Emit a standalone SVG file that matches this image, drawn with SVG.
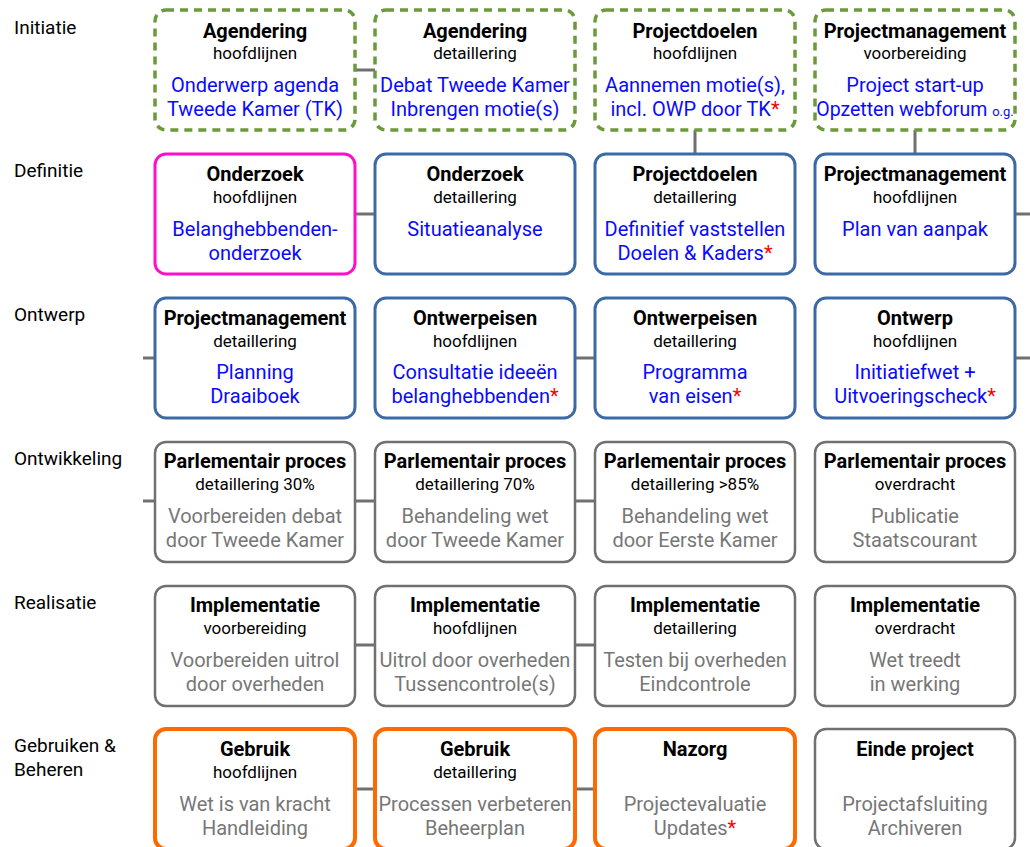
<svg xmlns="http://www.w3.org/2000/svg" width="1030" height="847" viewBox="0 0 1030 847">
<style>
text{font-family:Roboto,"Liberation Sans",sans-serif;text-anchor:middle}
.lbl{font-size:19px;fill:#000;text-anchor:start}
.t{font-size:20px;font-weight:bold;fill:#000}
.s{font-size:17px;fill:#000}
.b{font-size:20px;fill:#0a0aff}
.g{font-size:20px;fill:#777}
.r{fill:#ff0000}
.sm{font-size:13px}
.box{fill:#fff;stroke-width:3}
.green{stroke:#6b9a3a;stroke-width:3.5;stroke-dasharray:8 6}
.pink{stroke:#ff10c8}
.blue{stroke:#3c6aa6}
.gray{stroke:#707070;stroke-width:2.5}
.orange{stroke:#ff6a00;stroke-width:4}
.con line{stroke:#707070;stroke-width:3}
</style>
<g id="labels">
<text class="lbl" x="14" y="34">Initiatie</text>
<text class="lbl" x="14" y="177">Definitie</text>
<text class="lbl" x="14" y="321">Ontwerp</text>
<text class="lbl" x="14" y="465">Ontwikkeling</text>
<text class="lbl" x="14" y="609">Realisatie</text>
<text class="lbl" x="14" y="752">Gebruiken &amp;</text>
<text class="lbl" x="14" y="776">Beheren</text>
</g>
<g class="con" id="connectors">
<line x1="355" y1="70" x2="375" y2="70"/>
<line x1="695" y1="130" x2="695" y2="154"/>
<line x1="915" y1="130" x2="915" y2="154"/>
<line x1="355" y1="214" x2="375" y2="214"/>
<line x1="1015" y1="214" x2="1030" y2="214"/>
<line x1="143" y1="358" x2="155" y2="358"/>
<line x1="575" y1="358" x2="595" y2="358"/>
<line x1="1015" y1="358" x2="1030" y2="358"/>
<line x1="143" y1="501" x2="155" y2="501"/>
<line x1="355" y1="501" x2="375" y2="501"/>
<line x1="575" y1="501" x2="595" y2="501"/>
<line x1="355" y1="645" x2="375" y2="645"/>
<line x1="575" y1="645" x2="595" y2="645"/>
<line x1="355" y1="789" x2="375" y2="789"/>
<line x1="575" y1="789" x2="595" y2="789"/>
</g>
<!-- Row 1 -->
<g id="n11"><rect class="box green" x="155" y="10" width="200" height="120" rx="11"/>
<text class="t" x="255" y="38">Agendering</text><text class="s" x="255" y="59">hoofdlijnen</text>
<text class="b" x="255" y="92">Onderwerp agenda</text><text class="b" x="255" y="116">Tweede Kamer (TK)</text></g>
<g id="n12"><rect class="box green" x="375" y="10" width="200" height="120" rx="11"/>
<text class="t" x="475" y="38">Agendering</text><text class="s" x="475" y="59">detaillering</text>
<text class="b" x="475" y="92">Debat Tweede Kamer</text><text class="b" x="475" y="116">Inbrengen motie(s)</text></g>
<g id="n13"><rect class="box green" x="595" y="10" width="200" height="120" rx="11"/>
<text class="t" x="695" y="38">Projectdoelen</text><text class="s" x="695" y="59">hoofdlijnen</text>
<text class="b" x="695" y="92">Aannemen motie(s),</text><text class="b" x="695" y="116">incl. OWP door TK<tspan class="r">*</tspan></text></g>
<g id="n14"><rect class="box green" x="815" y="10" width="200" height="120" rx="11"/>
<text class="t" x="915" y="38">Projectmanagement</text><text class="s" x="915" y="59">voorbereiding</text>
<text class="b" x="915" y="92">Project start-up</text><text class="b" x="915" y="116" style="font-size:19.5px">Opzetten webforum <tspan class="sm">o.g.</tspan></text></g>
<!-- Row 2 -->
<g id="n21"><rect class="box pink" x="155" y="154" width="200" height="120" rx="11"/>
<text class="t" x="255" y="181">Onderzoek</text><text class="s" x="255" y="203">hoofdlijnen</text>
<text class="b" x="255" y="236">Belanghebbenden-</text><text class="b" x="255" y="260">onderzoek</text></g>
<g id="n22"><rect class="box blue" x="375" y="154" width="200" height="120" rx="11"/>
<text class="t" x="475" y="181">Onderzoek</text><text class="s" x="475" y="203">detaillering</text>
<text class="b" x="475" y="236">Situatieanalyse</text></g>
<g id="n23"><rect class="box blue" x="595" y="154" width="200" height="120" rx="11"/>
<text class="t" x="695" y="181">Projectdoelen</text><text class="s" x="695" y="203">detaillering</text>
<text class="b" x="695" y="236">Definitief vaststellen</text><text class="b" x="695" y="260">Doelen &amp; Kaders<tspan class="r">*</tspan></text></g>
<g id="n24"><rect class="box blue" x="815" y="154" width="200" height="120" rx="11"/>
<text class="t" x="915" y="181">Projectmanagement</text><text class="s" x="915" y="203">hoofdlijnen</text>
<text class="b" x="915" y="236">Plan van aanpak</text></g>
<!-- Row 3 -->
<g id="n31"><rect class="box blue" x="155" y="298" width="200" height="120" rx="11"/>
<text class="t" x="255" y="325">Projectmanagement</text><text class="s" x="255" y="347">detaillering</text>
<text class="b" x="255" y="379">Planning</text><text class="b" x="255" y="403">Draaiboek</text></g>
<g id="n32"><rect class="box blue" x="375" y="298" width="200" height="120" rx="11"/>
<text class="t" x="475" y="325">Ontwerpeisen</text><text class="s" x="475" y="347">hoofdlijnen</text>
<text class="b" x="475" y="379">Consultatie ideeën</text><text class="b" x="475" y="403">belanghebbenden<tspan class="r">*</tspan></text></g>
<g id="n33"><rect class="box blue" x="595" y="298" width="200" height="120" rx="11"/>
<text class="t" x="695" y="325">Ontwerpeisen</text><text class="s" x="695" y="347">detaillering</text>
<text class="b" x="695" y="379">Programma</text><text class="b" x="695" y="403">van eisen<tspan class="r">*</tspan></text></g>
<g id="n34"><rect class="box blue" x="815" y="298" width="200" height="120" rx="11"/>
<text class="t" x="915" y="325">Ontwerp</text><text class="s" x="915" y="347">hoofdlijnen</text>
<text class="b" x="915" y="379">Initiatiefwet +</text><text class="b" x="915" y="403">Uitvoeringscheck<tspan class="r">*</tspan></text></g>
<!-- Row 4 -->
<g id="n41"><rect class="box gray" x="155" y="442" width="200" height="120" rx="11"/>
<text class="t" x="255" y="468">Parlementair proces</text><text class="s" x="255" y="490">detaillering 30%</text>
<text class="g" x="255" y="523">Voorbereiden debat</text><text class="g" x="255" y="547">door Tweede Kamer</text></g>
<g id="n42"><rect class="box gray" x="375" y="442" width="200" height="120" rx="11"/>
<text class="t" x="475" y="468">Parlementair proces</text><text class="s" x="475" y="490">detaillering 70%</text>
<text class="g" x="475" y="523">Behandeling wet</text><text class="g" x="475" y="547">door Tweede Kamer</text></g>
<g id="n43"><rect class="box gray" x="595" y="442" width="200" height="120" rx="11"/>
<text class="t" x="695" y="468">Parlementair proces</text><text class="s" x="695" y="490">detaillering &gt;85%</text>
<text class="g" x="695" y="523">Behandeling wet</text><text class="g" x="695" y="547">door Eerste Kamer</text></g>
<g id="n44"><rect class="box gray" x="815" y="442" width="200" height="120" rx="11"/>
<text class="t" x="915" y="468">Parlementair proces</text><text class="s" x="915" y="490">overdracht</text>
<text class="g" x="915" y="523">Publicatie</text><text class="g" x="915" y="547">Staatscourant</text></g>
<!-- Row 5 -->
<g id="n51"><rect class="box gray" x="155" y="586" width="200" height="120" rx="11"/>
<text class="t" x="255" y="612">Implementatie</text><text class="s" x="255" y="634">voorbereiding</text>
<text class="g" x="255" y="667">Voorbereiden uitrol</text><text class="g" x="255" y="691">door overheden</text></g>
<g id="n52"><rect class="box gray" x="375" y="586" width="200" height="120" rx="11"/>
<text class="t" x="475" y="612">Implementatie</text><text class="s" x="475" y="634">hoofdlijnen</text>
<text class="g" x="475" y="667">Uitrol door overheden</text><text class="g" x="475" y="691">Tussencontrole(s)</text></g>
<g id="n53"><rect class="box gray" x="595" y="586" width="200" height="120" rx="11"/>
<text class="t" x="695" y="612">Implementatie</text><text class="s" x="695" y="634">detaillering</text>
<text class="g" x="695" y="667">Testen bij overheden</text><text class="g" x="695" y="691">Eindcontrole</text></g>
<g id="n54"><rect class="box gray" x="815" y="586" width="200" height="120" rx="11"/>
<text class="t" x="915" y="612">Implementatie</text><text class="s" x="915" y="634">overdracht</text>
<text class="g" x="915" y="667">Wet treedt</text><text class="g" x="915" y="691">in werking</text></g>
<!-- Row 6 -->
<g id="n61"><rect class="box orange" x="155" y="729" width="200" height="120" rx="11"/>
<text class="t" x="255" y="756">Gebruik</text><text class="s" x="255" y="778">hoofdlijnen</text>
<text class="g" x="255" y="811">Wet is van kracht</text><text class="g" x="255" y="835">Handleiding</text></g>
<g id="n62"><rect class="box orange" x="375" y="729" width="200" height="120" rx="11"/>
<text class="t" x="475" y="756">Gebruik</text><text class="s" x="475" y="778">detaillering</text>
<text class="g" x="475" y="811">Processen verbeteren</text><text class="g" x="475" y="835">Beheerplan</text></g>
<g id="n63"><rect class="box orange" x="595" y="729" width="200" height="120" rx="11"/>
<text class="t" x="695" y="756">Nazorg</text>
<text class="g" x="695" y="811">Projectevaluatie</text><text class="g" x="695" y="835">Updates<tspan class="r">*</tspan></text></g>
<g id="n64"><rect class="box gray" x="815" y="729" width="200" height="120" rx="11"/>
<text class="t" x="915" y="756">Einde project</text>
<text class="g" x="915" y="811">Projectafsluiting</text><text class="g" x="915" y="835">Archiveren</text></g>
</svg>
